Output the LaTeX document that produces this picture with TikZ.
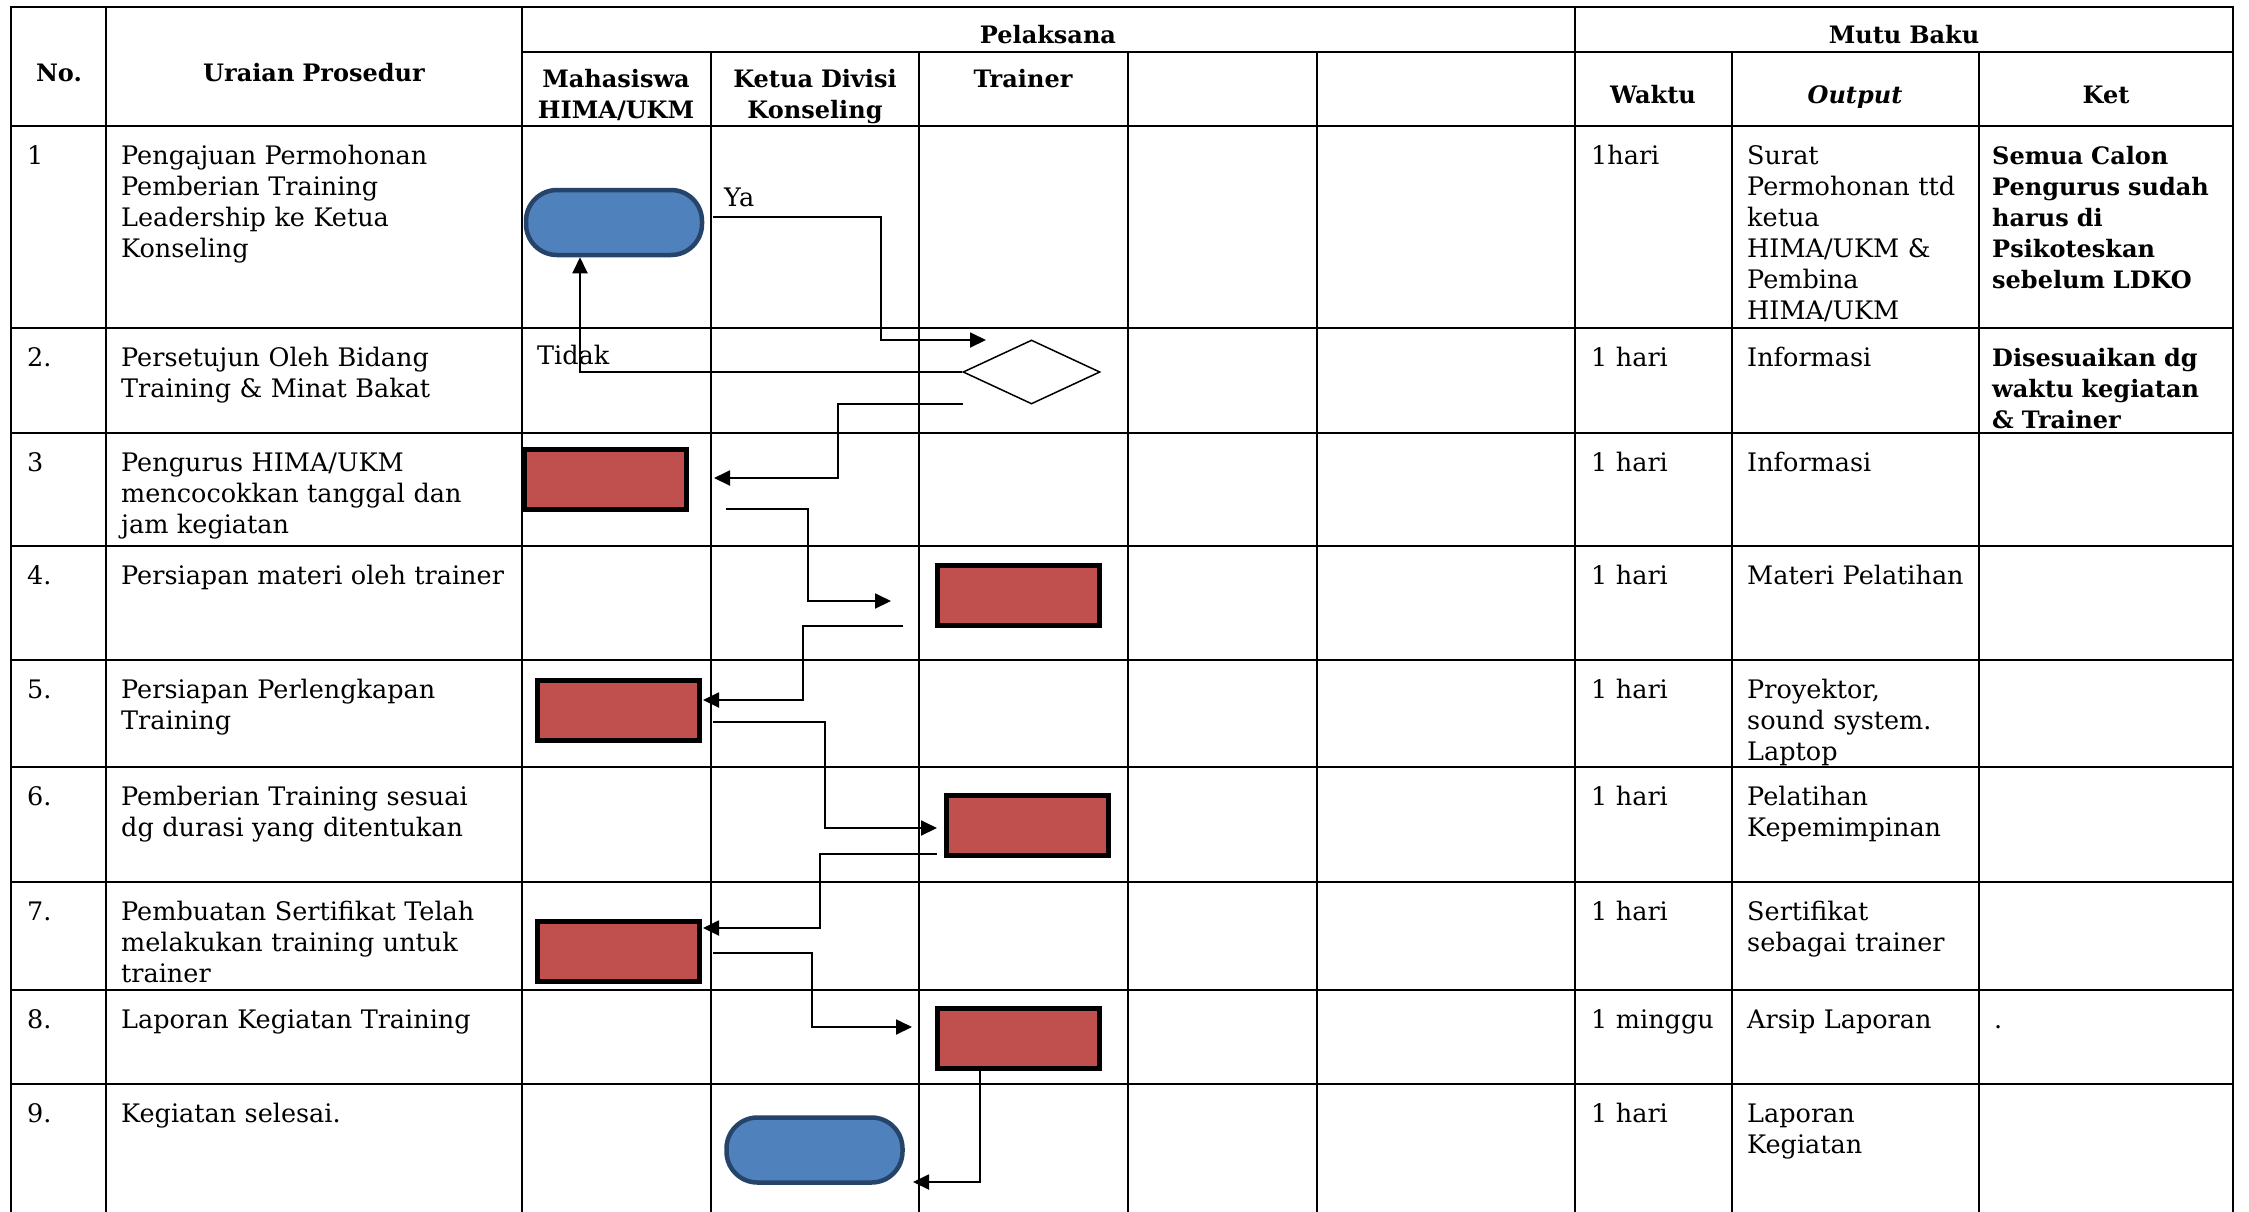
\documentclass[tikz,border=0pt]{standalone}
\usepackage{fontspec}
\setmainfont{DejaVu Serif}
\usetikzlibrary{shapes.geometric,arrows.meta,calc}
\definecolor{termblue}{HTML}{4F81BD}
\definecolor{termborder}{HTML}{264369}
\definecolor{procred}{HTML}{C0504D}
\begin{document}
\begin{tikzpicture}[x=1pt,y=-1pt,
  grid/.style={line width=2pt, line cap=rect},
  conn/.style={line width=1.9pt, -{Triangle[length=16pt,width=15pt]}},
  term/.style={draw=termborder, fill=termblue, line width=4.5pt, rounded corners=31pt, minimum width=176pt, minimum height=65pt, inner sep=0pt},
  procbox/.style={draw=black, fill=procred, line width=5pt, minimum width=162pt, minimum height=60pt, inner sep=0pt},
  decbox/.style={draw=black, fill=white, line width=1.5pt, diamond, minimum width=137pt, minimum height=64pt, inner sep=0pt},
  txt/.style={anchor=base west, inner sep=0pt, align=left, text width=400pt, font=\fontsize{25.5}{31}\selectfont},
  txtb/.style={txt, font=\fontsize{24}{31}\selectfont\bfseries},
  hdr/.style={anchor=base, inner sep=0pt, align=center, text width=240pt, font=\fontsize{24}{31}\selectfont\bfseries}
]
\useasboundingbox[fill=white] (0,0) rectangle (2249,1211);

% ---------- grid ----------
\draw[grid] (11,7) -- (2233,7);
\draw[grid] (522,52) -- (2233,52);
\foreach \yy in {126,328,433,546,660,767,882,990,1084}
  \draw[grid] (11,\yy) -- (2233,\yy);
\foreach \xx in {11,106,522,1575,2233}
  \draw[grid] (\xx,7) -- (\xx,1211);
\foreach \xx in {711,919,1128,1317,1732,1979}
  \draw[grid] (\xx,52) -- (\xx,1211);

% ---------- header ----------
\node[hdr] (hNo) at (59,81) {No.};
\node[hdr] (hUr) at (314,81) {Uraian Prosedur};
\node[hdr] (hPel) at (1048,43) {Pelaksana};
\node[hdr] (hMut) at (1904,43) {Mutu Baku};
\node[hdr] (hMhs) at (616,87) {Mahasiswa\\HIMA/UKM};
\node[hdr] (hKet) at (815,87) {Ketua Divisi\\Konseling};
\node[hdr] (hTr) at (1023,87) {Trainer};
\node[hdr] (hW) at (1653,103) {Waktu};
\node[hdr] (hO) at (1855,103) {\itshape Output};
\node[hdr] (hK) at (2106,103) {Ket};

% ---------- shapes ----------
\node[term] (T1) at (614,222.5) {};
\node[decbox] (D) at (1031.5,372) {};
\node[procbox] (R3) at (605.5,479) {};
\node[procbox] (R4) at (1018.5,595.5) {};
\node[procbox] (R5) at (618.5,710) {};
\node[procbox] (R6) at (1027.5,825) {};
\node[procbox] (R7) at (618.5,951.5) {};
\node[procbox] (R8) at (1018.5,1038) {};
\node[term] (T9) at (814.5,1150) {};

% ---------- connectors ----------
\coordinate (a0) at (713,217);  \coordinate (a1) at (986,340);
\coordinate (c0) at (963,404);  \coordinate (c1) at (714,478);
\coordinate (d0) at (726,509);  \coordinate (d1) at (891,601);
\coordinate (e0) at (903,626);  \coordinate (e1) at (703,700);
\coordinate (f0) at (713,722);  \coordinate (f1) at (937,828);
\coordinate (g0) at (937,854);  \coordinate (g1) at (703,928);
\coordinate (h0) at (713,953);  \coordinate (h1) at (912,1027);
\coordinate (i0) at (980,1070); \coordinate (i1) at (913,1182);

\draw[conn] (a0) -- ++(168,0) |- (a1);
\draw[conn] (D.west) -| ($(T1.south)+(-34,0)$);
\draw[conn] (c0) -- ++(-125,0) |- (c1);
\draw[conn] (d0) -- ++(82,0) |- (d1);
\draw[conn] (e0) -- ++(-100,0) |- (e1);
\draw[conn] (f0) -- ++(112,0) |- (f1);
\draw[conn] (g0) -- ++(-117,0) |- (g1);
\draw[conn] (h0) -- ++(99,0) |- (h1);
\draw[conn] (i0) |- (i1);

\node[txt] (lYa) at (724,206) {Ya};
\node[txt] (lTidak) at (537,364) {Tidak};

% ---------- row texts ----------
\node[txt] (n1) at (27,164) {1};
\node[txt] (u1) at (121,164) {Pengajuan Permohonan\\Pemberian Training\\Leadership ke Ketua\\Konseling};
\node[txt] (w1) at (1591,164) {1hari};
\node[txt] (o1) at (1747,164) {Surat\\Permohonan ttd\\ketua\\HIMA/UKM \&\\Pembina\\HIMA/UKM};
\node[txtb] (k1) at (1992,164) {Semua Calon\\Pengurus sudah\\harus di\\Psikoteskan\\sebelum LDKO};

\node[txt] (n2) at (27,366) {2.};
\node[txt] (u2) at (121,366) {Persetujun Oleh Bidang\\Training \& Minat Bakat};
\node[txt] (w2) at (1591,366) {1 hari};
\node[txt] (o2) at (1747,366) {Informasi};
\node[txtb] (k2) at (1992,366) {Disesuaikan dg\\waktu kegiatan\\\& Trainer};

\node[txt] (n3) at (27,471) {3};
\node[txt] (u3) at (121,471) {Pengurus HIMA/UKM\\mencocokkan tanggal dan\\jam kegiatan};
\node[txt] (w3) at (1591,471) {1 hari};
\node[txt] (o3) at (1747,471) {Informasi};

\node[txt] (n4) at (27,584) {4.};
\node[txt] (u4) at (121,584) {Persiapan materi oleh trainer};
\node[txt] (w4) at (1591,584) {1 hari};
\node[txt] (o4) at (1747,584) {Materi Pelatihan};

\node[txt] (n5) at (27,698) {5.};
\node[txt] (u5) at (121,698) {Persiapan Perlengkapan\\Training};
\node[txt] (w5) at (1591,698) {1 hari};
\node[txt] (o5) at (1747,698) {Proyektor,\\sound system.\\Laptop};

\node[txt] (n6) at (27,805) {6.};
\node[txt] (u6) at (121,805) {Pemberian Training sesuai\\dg durasi yang ditentukan};
\node[txt] (w6) at (1591,805) {1 hari};
\node[txt] (o6) at (1747,805) {Pelatihan\\Kepemimpinan};

\node[txt] (n7) at (27,920) {7.};
\node[txt] (u7) at (121,920) {Pembuatan Sertifikat Telah\\melakukan training untuk\\trainer};
\node[txt] (w7) at (1591,920) {1 hari};
\node[txt] (o7) at (1747,920) {Sertifikat\\sebagai trainer};

\node[txt] (n8) at (27,1028) {8.};
\node[txt] (u8) at (121,1028) {Laporan Kegiatan Training};
\node[txt] (w8) at (1591,1028) {1 minggu};
\node[txt] (o8) at (1747,1028) {Arsip Laporan};
\node[txt] (k8) at (1994,1028) {.};

\node[txt] (n9) at (27,1122) {9.};
\node[txt] (u9) at (121,1122) {Kegiatan selesai.};
\node[txt] (w9) at (1591,1122) {1 hari};
\node[txt] (o9) at (1747,1122) {Laporan\\Kegiatan};
\end{tikzpicture}
\end{document}
